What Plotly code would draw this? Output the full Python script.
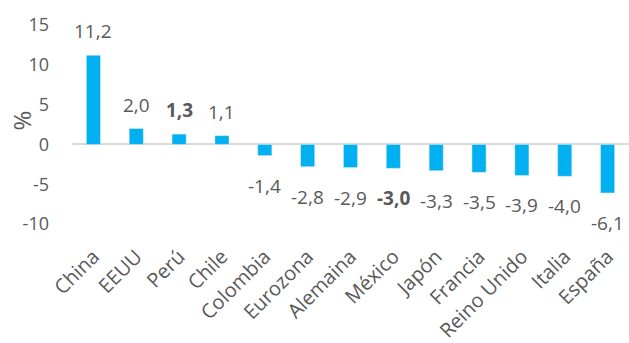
import plotly.graph_objects as go

categories = ["China", "EEUU", "Perú", "Chile", "Colombia", "Eurozona", "Alemaina",
              "México", "Japón", "Francia", "Reino Unido", "Italia", "España"]
values = [11.2, 2.0, 1.3, 1.1, -1.4, -2.8, -2.9, -3.0, -3.3, -3.5, -3.9, -4.0, -6.1]
bold = ["Perú", "México"]
y_ticks = [-10, -5, 0, 5, 10, 15]

def fmt(v):
    return f"{v:.1f}".replace(".", ",")

labels = [f"<b>{fmt(v)}</b>" if c in bold else fmt(v) for c, v in zip(categories, values)]

FONT = "Open Sans"
GRAY = "#595959"

fig = go.Figure(go.Bar(
    x=categories, y=values, marker_color="#00B0F0", width=0.33,
))

annotations = [dict(x=c, y=v, text=t, showarrow=False, xanchor="center", yanchor="middle",
                    yshift=24 if v >= 0 else -30,
                    font=dict(family=FONT, size=19, color=GRAY))
               for c, v, t in zip(categories, values, labels)]
annotations.append(dict(text="%", textangle=-90, xref="paper", yref="paper",
                        x=-0.09, y=0.545, xanchor="center", yanchor="middle",
                        showarrow=False, font=dict(size=24, color=GRAY, family=FONT)))

fig.update_layout(
    width=629, height=343,
    margin=dict(l=72, r=0, t=21, b=100),
    plot_bgcolor="white", paper_bgcolor="white",
    showlegend=False,
    font=dict(family=FONT, color=GRAY),
    xaxis=dict(tickangle=-45, tickfont=dict(size=20, color=GRAY, family=FONT),
               showgrid=False, showline=False, ticks=""),
    yaxis=dict(range=[-12, 15.5], tickvals=y_ticks, ticktext=[str(t) for t in y_ticks],
               showgrid=False, zeroline=True, zerolinecolor="#D9D9D9", zerolinewidth=2,
               tickfont=dict(size=18, color=GRAY, family=FONT), ticklabelstandoff=22),
    annotations=annotations,
    bargap=0.67,
)

fig.write_html("out.html")
